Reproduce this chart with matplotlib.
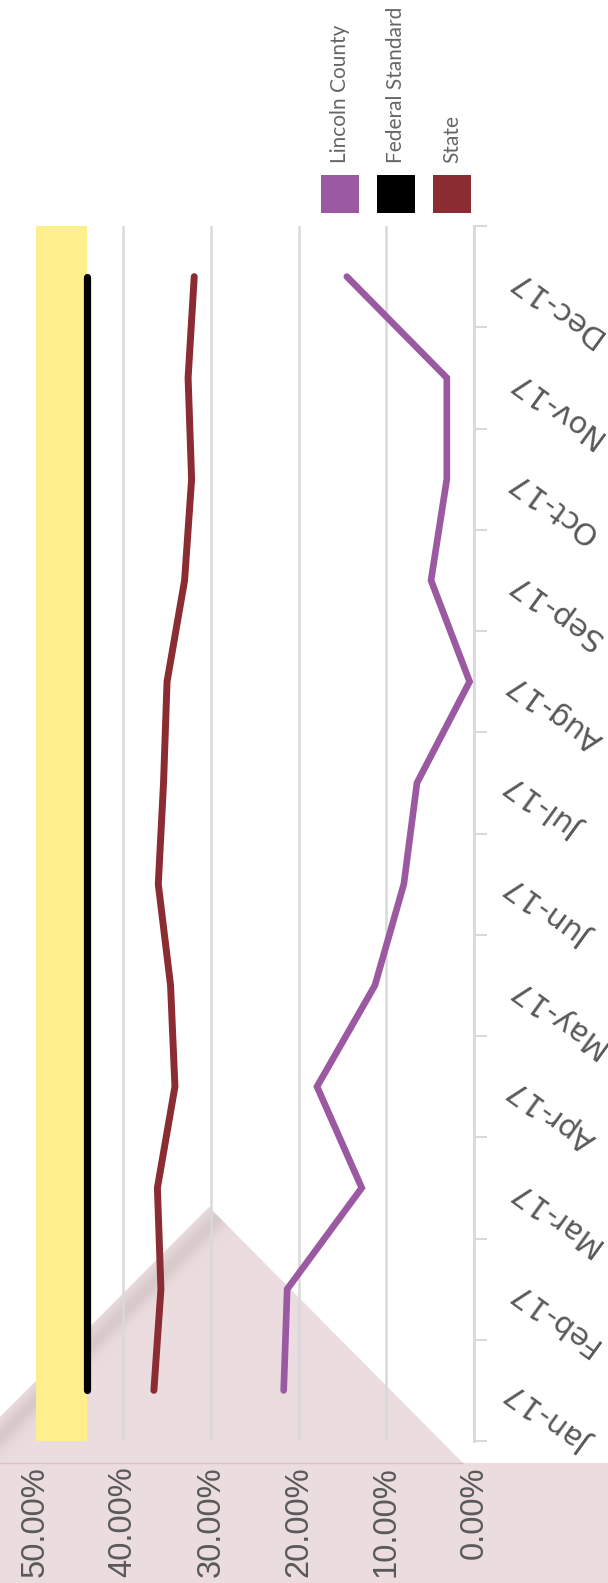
import matplotlib
matplotlib.use('Agg')
import matplotlib.pyplot as plt
from matplotlib.patches import Polygon, Rectangle
from matplotlib.lines import Line2D
import numpy as np

# data (percent)
months = ['Jan-17', 'Feb-17', 'Mar-17', 'Apr-17', 'May-17', 'Jun-17',
          'Jul-17', 'Aug-17', 'Sep-17', 'Oct-17', 'Nov-17', 'Dec-17']
lincoln = [21.7, 21.3, 12.8, 17.9, 11.3, 8.0, 6.5, 0.5, 4.9, 3.1, 3.1, 14.5]
federal = [44.1, 44.1, 44.1, 44.1, 44.1, 44.1, 44.1, 44.1, 44.1, 44.1, 44.1, 44.1]
state = [36.5, 35.7, 36.1, 34.1, 34.6, 36.0, 35.4, 35.0, 33.0, 32.2, 32.6, 31.9]
band = [44.1, 50.0]
pct_ticks = [0, 10, 20, 30, 40, 50]
pct_labels = ['%.2f%%' % v for v in pct_ticks]

names = ['Lincoln County', 'Federal Standard', 'State']
colors = ['#9B59A1', '#000000', '#8B2C33']

W, H = 608, 1583
fig = plt.figure(figsize=(W / 100, H / 100), dpi=100)
fig.patch.set_facecolor('white')

def fx(x):
  return x / W

def fy(y):
  return 1 - y / H

# pink background strip and folded corner
pink = '#EBDDDF'
fig.add_artist(Rectangle((0, 0), 1, fy(1463), transform=fig.transFigure,
                         color=pink, lw=0, zorder=-2))
tri_pts = [(0, 1417), (209, 1207), (463, 1463), (0, 1463)]
tri = Polygon([(fx(a), fy(b)) for a, b in tri_pts], closed=True,
              transform=fig.transFigure, color=pink, lw=0, zorder=-2)
fig.add_artist(tri)
A = np.array([0.0, 1417.0])
B = np.array([209.0, 1207.0])
d = (B - A) / np.linalg.norm(B - A)
n = np.array([1.0, 1.0]) / np.sqrt(2)
for off in range(0, 40, 2):
  a = 0.5 * np.exp(-((off - 13) / 10.0) ** 2)
  p0 = A - d * 80 + n * off
  p1 = B + d * 80 + n * off
  p2 = B + d * 80 + n * (off + 2)
  p3 = A - d * 80 + n * (off + 2)
  sh = Polygon([(fx(p[0]), fy(p[1])) for p in (p0, p1, p2, p3)], closed=True,
               transform=fig.transFigure, color='#C4B3B6', alpha=a, lw=0, zorder=-1)
  fig.add_artist(sh)
  sh.set_clip_path(tri)
fig.add_artist(Line2D([0, fx(463)], [fy(1463), fy(1463)], transform=fig.transFigure,
                      color='#D8C2C6', lw=1, zorder=-1))

ax = fig.add_axes([fx(35.5), fy(1441), (474 - 35.5) / W, (1441 - 226) / H])
ax.set_facecolor('none')
ax.set_xlim(50, 0)
ax.set_ylim(-0.5, 11.5)

y = np.arange(len(months))
ax.axvspan(band[0], band[1], color='#FEEF8C', lw=0, zorder=1)
ax.plot(lincoln, y, color=colors[0], lw=4.8, solid_capstyle='round',
        solid_joinstyle='miter', zorder=3)
ax.plot(federal, y, color=colors[1], lw=5.2, solid_capstyle='round', zorder=3)
ax.plot(state, y, color=colors[2], lw=5, solid_capstyle='round',
        solid_joinstyle='miter', zorder=3)

ax.set_axisbelow(True)
ax.grid(axis='x', color='#D9D9D9', lw=1.8)
ax.set_xticks(pct_ticks, pct_labels)
ax.tick_params(axis='x', length=0, pad=18.5, labelsize=23.5, labelcolor='#595959',
               labelrotation=90)
for lbl in ax.get_xticklabels():
  lbl.set_fontfamily(['Liberation Sans', 'DejaVu Sans'])

ax.yaxis.tick_right()
ax.set_yticks(np.arange(-0.5, 12, 1))
ax.tick_params(axis='y', length=9.4, width=1.5, color='#D9D9D9', labelright=False)
for s in ['top', 'bottom', 'left']:
  ax.spines[s].set_visible(False)
ax.spines['right'].set_color('#D9D9D9')
ax.spines['right'].set_linewidth(2)

for i, m in enumerate(months):
  ax.text(1.085, i + 0.02, m, transform=ax.get_yaxis_transform(), rotation=144,
          rotation_mode='anchor', ha='right', va='center', fontsize=22,
          color='#595959', family='DejaVu Sans')

# legend across the top
sw_x = [321, 377, 433]
for x0, name, c in zip(sw_x, names, colors):
  fig.add_artist(Rectangle((fx(x0), fy(213)), 38 / W, 38 / H,
                           transform=fig.transFigure, color=c, lw=0))
  fig.text(fx(x0 + 19), fy(163), name, rotation=90, ha='center', va='bottom',
           fontsize=15, color='#666666', family=['Lato', 'DejaVu Sans'])

fig.savefig('out.png', dpi=100)
